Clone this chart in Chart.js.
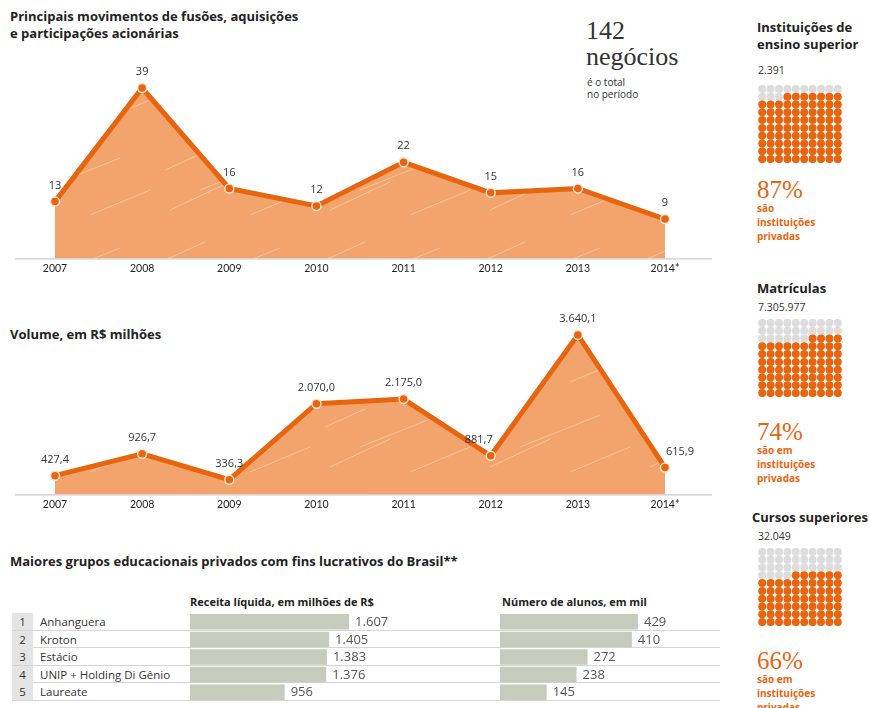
<!DOCTYPE html>
<html lang="pt-BR">
<head>
<meta charset="utf-8">
<script src="https://cdn.jsdelivr.net/npm/chart.js@4"></script>
<style>
  body { margin: 0; background: #fff; }
  #pagina { position: relative; width: 870px; height: 708px; overflow: hidden; font-family: "Open Sans", Lato, sans-serif; color: #222; }
  .abs { position: absolute; }
  .titulo { font-weight: bold; font-size: 13px; line-height: 17px; }
  .serif { font-family: "Liberation Serif", "DejaVu Serif", serif; }
  .laranja { color: #e8650f; }
  .pequeno { font-size: 10px; line-height: 12px; color: #333; }
  .perc { font-size: 25px; line-height: 25px; }
  .nota { font-size: 10px; line-height: 14px; font-weight: bold; }
  .linha { position: absolute; left: 12px; width: 708px; height: 17.5px; border-bottom: 1px solid #d6d6d6; box-sizing: border-box; font-size: 11.5px; line-height: 17px; color: #333; }
  .linha .num { position: absolute; left: 0; top: 0; width: 21px; height: 17px; background: #e4e4e4; text-align: center; }
  .linha .nome { position: absolute; left: 28px; top: 0; }
  canvas { position: absolute; }
</style>
</head>
<body>
<div id="pagina">
  <div class="abs titulo" style="left:10px; top:8px;">Principais movimentos de fusões, aquisições<br>e participações acionárias</div>

  <div class="abs serif" style="left:586px; top:18px; font-size:26px; line-height:26px; color:#333;">142<br>negócios</div>
  <div class="abs pequeno" style="left:587px; top:76px;">é o total<br>no período</div>

  <div class="abs titulo" style="left:10px; top:326px;">Volume, em R$ milhões</div>

  <div class="abs titulo" style="left:10px; top:553px;">Maiores grupos educacionais privados com fins lucrativos do Brasil**</div>
  <div class="abs" style="left:190px; top:594px; font-size:11px; font-weight:bold;">Receita líquida, em milhões de R$</div>
  <div class="abs" style="left:502px; top:594px; font-size:11px; font-weight:bold;">Número de alunos, em mil</div>
  <div id="tabela"></div>

  <canvas id="graficoNegocios" width="720" height="239" style="left:0; top:40px;"></canvas>
  <canvas id="graficoVolume" width="720" height="218" style="left:0; top:297px;"></canvas>
  <canvas id="graficoReceita" width="230" height="88" style="left:190px; top:613px;"></canvas>
  <canvas id="graficoAlunos" width="220" height="88" style="left:500px; top:613px;"></canvas>

  <div id="coluna"></div>
</div>

<script>
// Dados
const anos = ['2007', '2008', '2009', '2010', '2011', '2012', '2013', '2014*'];
const negocios = [13, 39, 16, 12, 22, 15, 16, 9];
const volume = [427.4, 926.7, 336.3, 2070.0, 2175.0, 881.7, 3640.1, 615.9];

const grupos = ['Anhanguera', 'Kroton', 'Estácio', 'UNIP + Holding Di Gênio', 'Laureate'];
const receita = [1607, 1405, 1383, 1376, 956];
const alunos = [429, 410, 272, 238, 145];

const painelTitulos = ['Instituições de<br>ensino superior', 'Matrículas', 'Cursos superiores'];
const painelTotais = ['2.391', '7.305.977', '32.049'];
const painelPercentuais = [87, 74, 66];
const painelTextos = ['são<br>instituições<br>privadas', 'são em<br>instituições<br>privadas', 'são em<br>instituições<br>privadas'];

const LARANJA = '#e8650f';
const AREA = '#f2a46c';
const CINZA = '#dcdcdc';
const BARRA = '#c6cbbc';

// Formatação brasileira
function formatoBR(v, casas) {
    const partes = v.toFixed(casas).split('.');
    const inteiro = partes[0].replace(/\B(?=(\d{3})+(?!\d))/g, '.');
    return partes[1] ? inteiro + ',' + partes[1] : inteiro;
}

// Textura do preenchimento (riscos brancos)
function texturaArea() {
    const c = document.createElement('canvas');
    c.width = 160; c.height = 90;
    const ctx = c.getContext('2d');
    ctx.fillStyle = AREA;
    ctx.fillRect(0, 0, c.width, c.height);
    ctx.strokeStyle = 'rgba(255,255,255,0.35)';
    ctx.lineWidth = 1;
    [[10, 80, 70, 52], [40, 60, 120, 28], [90, 85, 150, 60], [5, 40, 45, 22]].forEach(l => {
        ctx.beginPath();
        ctx.moveTo(l[0], l[1]);
        ctx.lineTo(l[2], l[3]);
        ctx.stroke();
    });
    return c.getContext('2d').createPattern(c, 'repeat');
}

// Plugin: linha de base e valores sobre os pontos
const valoresLinha = {
    id: 'valoresLinha',
    beforeDatasetsDraw(chart) {
        const ctx = chart.ctx;
        const y0 = chart.scales.y.getPixelForValue(0);
        ctx.save();
        ctx.strokeStyle = '#bdbdbd';
        ctx.lineWidth = 1;
        ctx.beginPath();
        ctx.moveTo(15, y0 + 0.5);
        ctx.lineTo(712, y0 + 0.5);
        ctx.stroke();
        ctx.restore();
    },
    afterDatasetsDraw(chart, args, opts) {
        const ctx = chart.ctx;
        const meta = chart.getDatasetMeta(0);
        const dados = chart.data.datasets[0].data;
        ctx.save();
        ctx.font = '11px "Open Sans", sans-serif';
        ctx.fillStyle = '#333';
        ctx.textAlign = 'center';
        ctx.textBaseline = 'middle';
        meta.data.forEach((p, i) => {
            const dx = opts.deslocX ? opts.deslocX[i] : 0;
            ctx.fillText(formatoBR(dados[i], opts.casas), p.x + dx, p.y - opts.acima);
        });
        ctx.restore();
    }
};

function graficoLinha(id, valores, maximo, casas, deslocX) {
    new Chart(document.getElementById(id), {
        type: 'line',
        data: {
            labels: anos,
            datasets: [{
                data: valores,
                borderColor: LARANJA,
                borderWidth: 5,
                backgroundColor: texturaArea(),
                fill: 'origin',
                tension: 0,
                pointRadius: 4.5,
                pointBackgroundColor: LARANJA,
                pointBorderColor: '#fde3cf',
                pointBorderWidth: 1.5
            }]
        },
        options: {
            responsive: false,
            animation: false,
            layout: { padding: { left: 55, right: 55, top: 10 } },
            plugins: {
                legend: { display: false },
                tooltip: { enabled: false },
                valoresLinha: { casas: casas, acima: 16, deslocX: deslocX }
            },
            scales: {
                x: {
                    offset: false,
                    grid: { display: false, drawTicks: false },
                    border: { display: false },
                    ticks: { color: '#222', font: { size: 10.5, family: 'Lato' }, padding: 4 }
                },
                y: { display: false, min: 0, max: maximo }
            }
        },
        plugins: [valoresLinha]
    });
}

graficoLinha('graficoNegocios', negocios, 47.7, 0, null);
graficoLinha('graficoVolume', volume, 4277, 1, [0, 0, 0, 0, 0, -12, 0, 15]);

// Tabela de grupos
const tabela = document.getElementById('tabela');
grupos.forEach((g, i) => {
    const linha = document.createElement('div');
    linha.className = 'linha';
    linha.style.top = (613 + i * 17.5) + 'px';
    linha.innerHTML = `<span class="num">${i + 1}</span><span class="nome">${g}</span>`;
    tabela.appendChild(linha);
});

const valoresBarra = {
    id: 'valoresBarra',
    afterDatasetsDraw(chart) {
        const ctx = chart.ctx;
        const meta = chart.getDatasetMeta(0);
        const dados = chart.data.datasets[0].data;
        ctx.save();
        ctx.font = '13px "Open Sans", sans-serif';
        ctx.fillStyle = '#555';
        ctx.textBaseline = 'middle';
        meta.data.forEach((b, i) => {
            ctx.fillText(formatoBR(dados[i], 0), b.x + 6, b.y + 0.5);
        });
        ctx.restore();
    }
};

function graficoBarra(id, valores, maximo) {
    new Chart(document.getElementById(id), {
        type: 'bar',
        data: {
            labels: grupos,
            datasets: [{
                data: valores,
                backgroundColor: BARRA,
                categoryPercentage: 1,
                barPercentage: 0.88
            }]
        },
        options: {
            indexAxis: 'y',
            responsive: false,
            animation: false,
            layout: { padding: 0 },
            plugins: { legend: { display: false }, tooltip: { enabled: false } },
            scales: {
                x: { display: false, min: 0, max: maximo },
                y: { display: false }
            }
        },
        plugins: [valoresBarra]
    });
}

graficoBarra('graficoReceita', receita, 2323);
graficoBarra('graficoAlunos', alunos, 684);

// Coluna da direita com os "waffles"
const coluna = document.getElementById('coluna');
// posições verticais de cada painel: título, total, waffle, percentual, texto
const posPaineis = [
    [19, 64, 81, 177, 201],
    [280, 301, 315, 419, 443],
    [509, 530, 544, 648, 672]
];
painelTitulos.forEach((t, k) => {
    const p = posPaineis[k];
    const esq = k === 2 ? 752 : 757;
    coluna.insertAdjacentHTML('beforeend', `
        <div class="abs titulo" style="left:${esq}px; top:${p[0]}px;">${t}</div>
        <div class="abs pequeno" style="left:758px; top:${p[1]}px; font-size:10.5px;">${painelTotais[k]}</div>
        <canvas id="waffle${k}" width="92" height="86" style="left:754px; top:${p[2]}px;"></canvas>
        <div class="abs serif laranja perc" style="left:757px; top:${p[3]}px;">${painelPercentuais[k]}%</div>
        <div class="abs laranja nota" style="left:757px; top:${p[4]}px;">${painelTextos[k]}</div>
    `);
});

function waffle(id, perc) {
    const pontos = [];
    const cores = [];
    for (let i = 0; i < 100; i++) {
        pontos.push({ x: i % 10, y: Math.floor(i / 10) });
        cores.push(i < 100 - perc ? CINZA : LARANJA);
    }
    new Chart(document.getElementById(id), {
        type: 'scatter',
        data: {
            datasets: [{
                data: pontos,
                pointRadius: 4,
                pointBackgroundColor: cores,
                pointBorderWidth: 0
            }]
        },
        options: {
            responsive: false,
            animation: false,
            layout: { padding: 0 },
            plugins: { legend: { display: false }, tooltip: { enabled: false } },
            scales: {
                x: { display: false, min: -0.5, max: 9.5 },
                y: { display: false, min: -0.5, max: 9.5, reverse: true }
            }
        }
    });
}

painelPercentuais.forEach((p, k) => waffle('waffle' + k, p));
</script>
</body>
</html>
